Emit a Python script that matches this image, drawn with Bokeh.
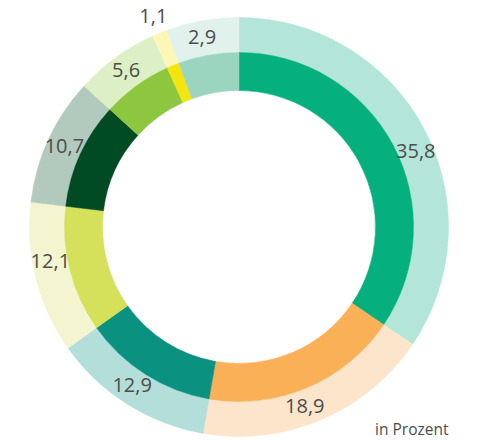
import math
from bokeh.plotting import figure
from bokeh.models import ColumnDataSource, Range1d
from bokeh.core.properties import value
from bokeh.embed import file_html
from bokeh.resources import INLINE

# Data (clockwise from 12 o'clock)
labels = ["35,8", "18,9", "12,9", "12,1", "10,7", "5,6", "1,1", "2,9"]
# segment sizes as drawn in the picture (percent of the full circle)
shares = [34.45, 18.3, 12.45, 11.7, 9.85, 6.5, 1.15, 5.6]
inner_colors = ["#05AF7E", "#F9B057", "#0B9180", "#D5E05B",
                "#004B23", "#8DC63F", "#F5E50F", "#9BD5C0"]
outer_colors = ["#B3E6D8", "#FDE5CC", "#B3DED9", "#F2F5D0",
                "#B2C9BD", "#DDEFC5", "#FDF7B7", "#E1F2EC"]
unit_note = "in Prozent"
# small angular nudges of the labels (degrees, clockwise)
label_nudge = [5, 3, 1.5, 3.5, 0, 0, 0, -1]

W, H = 478, 441
cx, cy = 238.5, 214.5
r_hole, r_mid, r_out = 136.5, 174.5, 209.5

total = sum(shares)
starts, ends, lx, ly = [], [], [], []
acc = 0.0
for s, nd in zip(shares, label_nudge):
    a1 = acc / total * 2 * math.pi
    acc += s
    a2 = acc / total * 2 * math.pi
    # convert clockwise-from-top to bokeh angles (anticlockwise from +x)
    starts.append(math.pi / 2 - a2)
    ends.append(math.pi / 2 - a1)
    mid = (a1 + a2) / 2 + math.radians(nd)
    rl = (r_mid + r_out) / 2 if s >= 2 else r_out + 17
    lx.append(cx + rl * math.sin(mid))
    ly.append(cy + rl * math.cos(mid) + 1.5)

src = ColumnDataSource(dict(start=starts, end=ends, inner=inner_colors,
                            outer=outer_colors, x=lx, y=ly, label=labels))

p = figure(width=W, height=H, output_backend="svg", toolbar_location=None,
           x_range=Range1d(0, W), y_range=Range1d(0, H), min_border=0)
p.xaxis.visible = False
p.yaxis.visible = False
p.grid.visible = False
p.outline_line_color = None
p.background_fill_color = "white"
p.border_fill_color = "white"

p.annular_wedge(x=cx, y=cy, inner_radius=r_mid, outer_radius=r_out,
                start_angle="start", end_angle="end", fill_color="outer",
                line_color="outer", line_width=0.5, source=src)
p.annular_wedge(x=cx, y=cy, inner_radius=r_hole, outer_radius=r_mid,
                start_angle="start", end_angle="end", fill_color="inner",
                line_color="inner", line_width=0.5, source=src)

p.text(x="x", y="y", text="label", source=src, text_align="center",
       text_baseline="middle", text_font=value("Open Sans"),
       text_font_size="20px", text_color="#4D4D4D")

p.text(x=[448], y=[13], text=[unit_note], text_align="right",
       text_baseline="middle", text_font=value("Open Sans"),
       text_font_size="15.5px", text_color="#4D4D4D")

open("out.html", "w").write(file_html(p, INLINE))
